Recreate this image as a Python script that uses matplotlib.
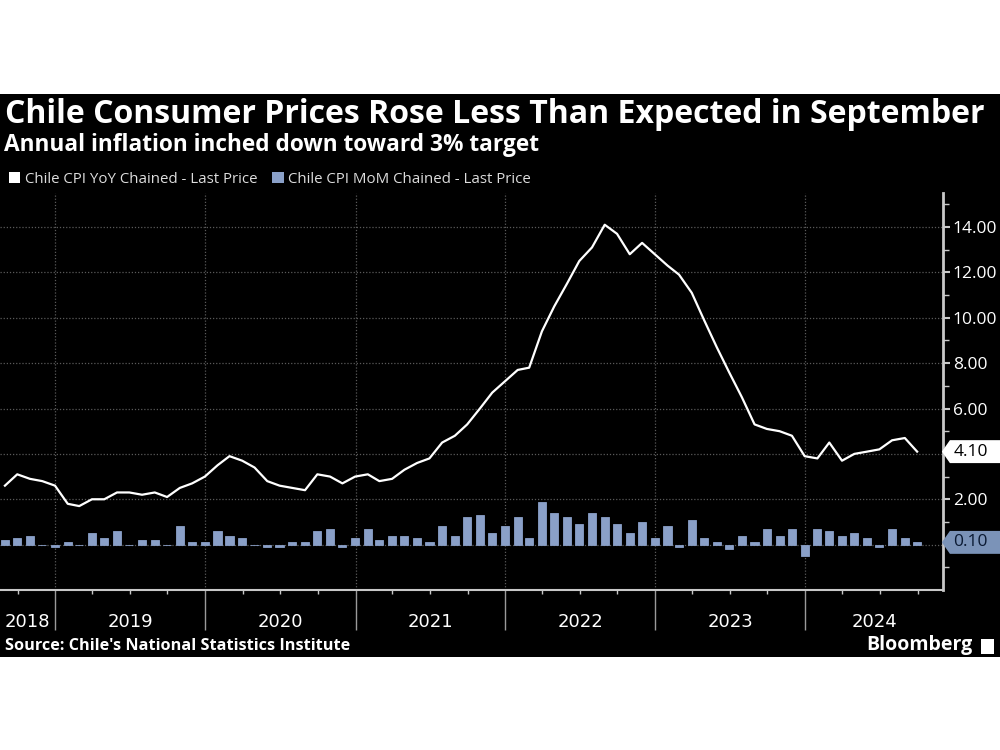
import numpy as np
import pandas as pd
import matplotlib
matplotlib.use("Agg")
import matplotlib.pyplot as plt
import matplotlib.dates as mdates
import matplotlib.transforms as mtransforms
from matplotlib.patches import Rectangle, Patch
from matplotlib.path import Path

# monthly data, Aug 2018 - Sep 2024
months = pd.date_range("2018-08-31", periods=74, freq="ME")

yoy = [2.6, 3.1, 2.9, 2.8, 2.6,
       1.8, 1.7, 2.0, 2.0, 2.3, 2.3, 2.2, 2.3, 2.1, 2.5, 2.7, 3.0,
       3.5, 3.9, 3.7, 3.4, 2.8, 2.6, 2.5, 2.4, 3.1, 3.0, 2.7, 3.0,
       3.1, 2.8, 2.9, 3.3, 3.6, 3.8, 4.5, 4.8, 5.3, 6.0, 6.7, 7.2,
       7.7, 7.8, 9.4, 10.5, 11.5, 12.5, 13.1, 14.1, 13.7, 12.8, 13.3, 12.8,
       12.3, 11.9, 11.1, 9.9, 8.7, 7.6, 6.5, 5.3, 5.1, 5.0, 4.8, 3.9,
       3.8, 4.5, 3.7, 4.0, 4.1, 4.2, 4.6, 4.7, 4.1]

mom = [0.2, 0.3, 0.4, 0.0, -0.1,
       0.1, 0.0, 0.5, 0.3, 0.6, 0.0, 0.2, 0.2, 0.0, 0.8, 0.1, 0.1,
       0.6, 0.4, 0.3, 0.0, -0.1, -0.1, 0.1, 0.1, 0.6, 0.7, -0.1, 0.3,
       0.7, 0.2, 0.4, 0.4, 0.3, 0.1, 0.8, 0.4, 1.2, 1.3, 0.5, 0.8,
       1.2, 0.3, 1.9, 1.4, 1.2, 0.9, 1.4, 1.2, 0.9, 0.5, 1.0, 0.3,
       0.8, -0.1, 1.1, 0.3, 0.1, -0.2, 0.4, 0.1, 0.7, 0.4, 0.7, -0.5,
       0.7, 0.6, 0.4, 0.5, 0.3, -0.1, 0.7, 0.3, 0.1]

years = [2018, 2019, 2020, 2021, 2022, 2023, 2024]
y_ticks = [0, 2, 4, 6, 8, 10, 12, 14]
y_labels = ["", "2.00", "", "6.00", "8.00", "10.00", "12.00", "14.00"]

title = "Chile Consumer Prices Rose Less Than Expected in September"
subtitle = "Annual inflation inched down toward 3% target"
legend_names = ["Chile CPI YoY Chained - Last Price", "Chile CPI MoM Chained - Last Price"]

line_col = "white"
bar_col = "#8aa0c8"
grid_col = "#5a5a5a"
axis_col = "#c8c8c8"
font = ["Open Sans", "DejaVu Sans"]


def tag_box(x0, y0, width, height, mutation_size):
    # pentagon label pointing left, like the last-value tags on the terminal
    pad = 0.2 * mutation_size
    x0, y0 = x0 - pad, y0 - pad
    w, h = width + 2 * pad, height + 2 * pad
    pts = [(x0 - h * 0.35, y0 + h / 2), (x0, y0), (x0 + w + 20, y0),
           (x0 + w + 20, y0 + h), (x0, y0 + h), (x0 - h * 0.35, y0 + h / 2)]
    codes = [Path.MOVETO] + [Path.LINETO] * 4 + [Path.CLOSEPOLY]
    return Path(pts, codes)


fig = plt.figure(figsize=(10, 7.5), dpi=100, facecolor="white")
# black panel behind everything
fig.patches.append(Rectangle((0, 0.124), 1, 0.7513, transform=fig.transFigure,
                             facecolor="black", edgecolor="none", zorder=-10))

ax = fig.add_axes([0.0, 0.2133, 0.943, 0.5294])
ax.set_facecolor("black")

ax.bar(months, mom, width=20, color=bar_col, edgecolor=bar_col, linewidth=0.6, zorder=2)
ax.plot(months, yoy, color=line_col, linewidth=1.6, zorder=3)

x_left = pd.Timestamp("2018-08-19")
x_right = pd.Timestamp("2024-12-02")
ax.set_xlim(x_left, x_right)
ax.set_ylim(-2, 15.5)

# y axis on the right
ax.yaxis.tick_right()
ax.set_yticks(y_ticks)
ax.set_yticklabels(y_labels)
ax.set_yticks(np.arange(-1, 16, 2), minor=True)
ax.tick_params(axis="y", which="major", length=5, width=1.5, colors=axis_col,
               labelcolor="white", labelsize=12.5, pad=2)
ax.tick_params(axis="y", which="minor", length=4, width=1, colors=axis_col)
for lab in ax.get_yticklabels():
    lab.set_family(font)

# x axis: year separators and quarterly minor ticks
year_starts = [pd.Timestamp(f"{y}-01-01") for y in years[1:]]
ax.set_xticks(year_starts)
ax.set_xticklabels([])
ax.xaxis.set_minor_locator(mdates.MonthLocator(bymonth=[1, 4, 7, 10]))
ax.tick_params(axis="x", which="major", length=29, width=1, colors="#9a9a9a")
ax.tick_params(axis="x", which="minor", length=3, width=1, colors=axis_col)

trans = mtransforms.blended_transform_factory(ax.transData, ax.transAxes)
lo = mdates.date2num(x_left)
hi = mdates.date2num(x_right)
for y in years:
    a = max(lo, mdates.date2num(pd.Timestamp(f"{y}-01-01")))
    b = min(hi, mdates.date2num(pd.Timestamp(f"{y + 1}-01-01")))
    ax.text((a + b) / 2, -0.081, str(y), transform=trans, ha="center", va="center",
            color="white", fontsize=13, family=["Liberation Sans Narrow", "DejaVu Sans"])

for s in ["left", "top"]:
    ax.spines[s].set_visible(False)
ax.spines["right"].set_color(axis_col)
ax.spines["right"].set_linewidth(2)
ax.spines["bottom"].set_color(axis_col)
ax.spines["bottom"].set_linewidth(1.5)

# dotted grid
for v in y_ticks:
    ax.axhline(v, color=grid_col, linestyle=(0, (1, 1.5)), linewidth=0.9, zorder=1)
for d in year_starts:
    ax.axvline(d, color=grid_col, linestyle=(0, (1, 1.5)), linewidth=0.9, zorder=1)

# last-value tags
ytrans = mtransforms.blended_transform_factory(ax.transAxes, ax.transData)
ax.text(1.011, yoy[-1], f"{yoy[-1]:.2f}", transform=ytrans, ha="left", va="center",
        color="black", fontsize=12.5, family=font,
        bbox=dict(boxstyle=tag_box, facecolor="white", edgecolor="none"), zorder=5)
ax.text(1.011, mom[-1], f"{mom[-1]:.2f}", transform=ytrans, ha="left", va="center",
        color="#0b1a33", fontsize=12.5, family=font,
        bbox=dict(boxstyle=tag_box, facecolor="#7b93b8", edgecolor="none"), zorder=5)

# titles
fig.text(0.005, 0.8467, title, color="white", fontsize=23, fontweight="bold",
         family=font, ha="left", va="center")
fig.text(0.004, 0.8067, subtitle, color="white", fontsize=16.3, fontweight="bold",
         family=font, ha="left", va="center")

handles = [Patch(facecolor=line_col, edgecolor="none"), Patch(facecolor=bar_col, edgecolor="none")]
fig.legend(handles, legend_names, loc="center left", bbox_to_anchor=(0.0, 0.7607), ncol=2,
           frameon=False, handlelength=0.75, handleheight=0.75, handletextpad=0.3,
           columnspacing=1.0, borderaxespad=0.2, labelcolor="#dddddd",
           prop={"family": font, "size": 10.8})

fig.text(0.005, 0.1387, "Source: Chile's National Statistics Institute", color="white",
         fontsize=11.7, fontweight="bold", family=font, ha="left", va="center")
fig.text(0.973, 0.140, "Bloomberg", color="white", fontsize=14, fontweight="bold",
         family=font, ha="right", va="center")
fig.patches.append(Rectangle((0.981, 0.128), 0.013, 0.02, transform=fig.transFigure,
                             facecolor="white", edgecolor="none"))

fig.savefig("out.png", dpi=100, facecolor="white")
